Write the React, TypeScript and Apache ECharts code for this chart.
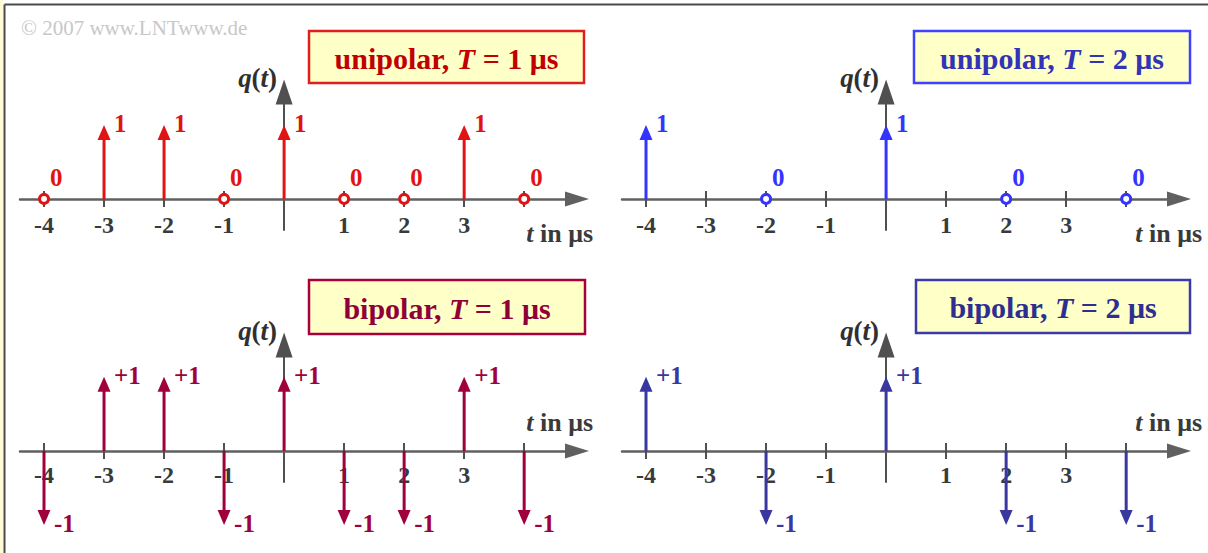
import React, { useEffect, useRef } from "react";
import * as echarts from "echarts";

const SERIF = '"Liberation Serif", "Times New Roman", serif';

// Sampling instants (µs) for the two bit durations
const timesT1 = [-4, -3, -2, -1, 0, 1, 2, 3, 4];
const timesT2 = [-4, -2, 0, 2, 4];

// Weights of the Dirac impulses of q(t)
const unipolarT1 = [0, 1, 1, 0, 1, 0, 0, 1, 0];
const unipolarT2 = [1, 0, 1, 0, 0];
const bipolarT1 = [-1, 1, 1, -1, 1, -1, -1, 1, -1];
const bipolarT2 = [1, -1, 1, -1, -1];

// Axis ticks and labels of the time axis
const tickLabels = [-4, -3, -2, -1, 1, 2, 3];
const tickMarks = [-4, -3, -2, -1, 1, 2, 3, 4];

// Panel captions
const codeNames = ["unipolar", "unipolar", "bipolar", "bipolar"];
const bitDurations = [1, 2, 1, 2];

const AXIS_TEXT = "#3a3a3a";

type Panel = {
  times: number[];
  values: number[];
  signed: boolean;
  color: string;
  textColor: string;
  borderColor: string;
  left: number;
  top: number;
  height: number;
  yMax: number;
  nameGap: number;
  nameBelow: boolean;
  labelMargin: number;
  box: [number, number, number, number];
};

const panels: Panel[] = [
  {
    times: timesT1, values: unipolarT1, signed: false,
    color: "#e01414", textColor: "#c00000", borderColor: "#e01e1e",
    left: 20, top: 92, height: 138, yMax: 1.445, nameGap: 16, nameBelow: true, labelMargin: -17,
    box: [309, 31, 275, 52],
  },
  {
    times: timesT2, values: unipolarT2, signed: false,
    color: "#3434ff", textColor: "#3333b8", borderColor: "#4040ff",
    left: 622, top: 92, height: 138, yMax: 1.445, nameGap: 23, nameBelow: true, labelMargin: -17,
    box: [914, 31, 276, 52],
  },
  {
    times: timesT1, values: bipolarT1, signed: true,
    color: "#a0003c", textColor: "#900038", borderColor: "#a8003e",
    left: 20, top: 345, height: 137, yMax: 1.43, nameGap: 16, nameBelow: false, labelMargin: -19,
    box: [309, 280, 276, 54],
  },
  {
    times: timesT2, values: bipolarT2, signed: true,
    color: "#3838a0", textColor: "#2e2e90", borderColor: "#3a3aa8",
    left: 622, top: 345, height: 137, yMax: 1.43, nameGap: 23, nameBelow: false, labelMargin: -19,
    box: [916, 280, 274, 53],
  },
];

const X_MIN = -4.4;
const X_MAX = 4.88;
const Y_MIN = -0.42;
const GRID_W = 557;

function impulseRenderer(color: string, signed: boolean) {
  return (params: any, api: any) => {
    const t = api.value(0);
    const v = api.value(1);
    const base = api.coord([t, 0]);
    const x = base[0];
    const y0 = base[1];
    const font = `bold 25px ${SERIF}`;
    if (v === 0) {
      return {
        type: "group",
        children: [
          {
            type: "circle",
            shape: { cx: x, cy: y0, r: 4.5 },
            style: { fill: "#ffffff", stroke: color, lineWidth: 3 },
          },
          {
            type: "text",
            style: { text: "0", x: x + 6, y: y0 - 21, fill: color, font, align: "left", verticalAlign: "middle" },
          },
        ],
      };
    }
    const tip = api.coord([t, v]);
    const yt = tip[1];
    const dir = v > 0 ? 1 : -1;
    const headLen = 15;
    const half = 6.5;
    const yb = yt + dir * headLen;
    const label = signed ? (v > 0 ? "+" : "") + String(v) : String(v);
    return {
      type: "group",
      children: [
        {
          type: "line",
          shape: { x1: x, y1: y0, x2: x, y2: yb - dir * 1 },
          style: { stroke: color, lineWidth: 3 },
        },
        {
          type: "polygon",
          shape: { points: [[x, yt], [x - half, yb], [x + half, yb]] },
          style: { fill: color },
        },
        {
          type: "text",
          style: { text: label, x: x + 10, y: yt - 1, fill: color, font, align: "left", verticalAlign: "middle" },
        },
      ],
    };
  };
}

function buildOption() {
  const grid: any[] = [];
  const xAxis: any[] = [];
  const yAxis: any[] = [];
  const series: any[] = [];
  const graphic: any[] = [];

  const nameRich = {
    i: { fontFamily: SERIF, fontStyle: "italic", fontWeight: "bold", fontSize: 26, color: AXIS_TEXT },
    n: { fontFamily: SERIF, fontWeight: "bold", fontSize: 26, color: AXIS_TEXT },
  };

  panels.forEach((p, i) => {
    grid.push({ left: p.left, top: p.top, width: GRID_W, height: p.height, containLabel: false });

    // main time axis: line, arrow, outer ticks, labels, name
    xAxis.push({
      type: "value",
      gridIndex: i,
      min: X_MIN,
      max: X_MAX,
      position: "bottom",
      axisLine: {
        show: true,
        onZero: true,
        onZeroAxisIndex: i,
        symbol: ["none", "triangle"],
        symbolSize: [15, 24],
        lineStyle: { color: "#606060", width: 2.5 },
      },
      axisTick: {
        show: true,
        inside: false,
        length: 8,
        customValues: tickMarks,
        lineStyle: { color: "#505050", width: 2 },
      },
      axisLabel: {
        show: true,
        customValues: tickLabels,
        margin: p.labelMargin,
        color: AXIS_TEXT,
        fontFamily: SERIF,
        fontWeight: "bold",
        fontSize: 24,
        formatter: (val: number) => String(val),
      },
      splitLine: { show: false },
      name: "{i|t}{n| in μs}",
      nameLocation: "end",
      nameGap: p.nameGap,
      nameTextStyle: {
        align: "right",
        verticalAlign: p.nameBelow ? "top" : "bottom",
        padding: p.nameBelow ? [22, 0, 0, 0] : [0, 0, 15, 0],
        rich: nameRich,
      },
    });

    // companion axis carrying the inner half of each tick mark
    xAxis.push({
      type: "value",
      gridIndex: i,
      min: X_MIN,
      max: X_MAX,
      position: "bottom",
      axisLine: { show: false, onZero: true, onZeroAxisIndex: i },
      axisTick: {
        show: true,
        inside: true,
        length: 8,
        customValues: tickMarks,
        lineStyle: { color: "#505050", width: 2 },
      },
      axisLabel: { show: false },
      splitLine: { show: false },
    });

    yAxis.push({
      type: "value",
      gridIndex: i,
      min: Y_MIN,
      max: p.yMax,
      axisLine: {
        show: true,
        onZero: true,
        onZeroAxisIndex: 2 * i,
        symbol: ["none", "triangle"],
        symbolSize: [17, 25],
        lineStyle: { color: "#505050", width: 2 },
      },
      axisTick: { show: false },
      axisLabel: { show: false },
      splitLine: { show: false },
      name: "{i|q}{n|(}{i|t}{n|)}",
      nameLocation: "end",
      nameGap: 14,
      nameTextStyle: {
        align: "right",
        verticalAlign: "middle",
        padding: [0, 7, 0, 0],
        rich: {
          i: { fontFamily: SERIF, fontStyle: "italic", fontWeight: "bold", fontSize: 27, color: "#303030" },
          n: { fontFamily: SERIF, fontWeight: "bold", fontSize: 27, color: "#303030" },
        },
      },
    });

    series.push({
      type: "custom",
      xAxisIndex: 2 * i,
      yAxisIndex: i,
      clip: false,
      z: 5,
      renderItem: impulseRenderer(p.color, p.signed),
      data: p.times.map((t, k) => [t, p.values[k]]),
    });

    // caption box
    const [bx, by, bw, bh] = p.box;
    graphic.push({
      type: "rect",
      shape: { x: bx, y: by, width: bw, height: bh },
      style: { fill: "#ffffc8", stroke: p.borderColor, lineWidth: 2.5 },
      z: 10,
    });
    const bold = { fontFamily: SERIF, fontWeight: "bold", fontSize: 30, fill: p.textColor };
    graphic.push({
      type: "text",
      x: bx + bw / 2,
      y: by + bh / 2 + 1,
      z: 11,
      style: {
        text: `{b|${codeNames[i]}, }{i|T}{b| = ${bitDurations[i]} μs}`,
        align: "center",
        verticalAlign: "middle",
        rich: {
          b: bold,
          i: { ...bold, fontStyle: "italic" },
        },
      },
    });
  });

  // frame and copyright line
  graphic.push(
    { type: "rect", shape: { x: 0, y: 0, width: 3, height: 553 }, style: { fill: "#fffbd6" }, z: 1 },
    { type: "line", shape: { x1: 4.5, y1: 4.5, x2: 1208, y2: 4.5 }, style: { stroke: "#4a4a4a", lineWidth: 2 }, z: 1 },
    { type: "line", shape: { x1: 4.5, y1: 4.5, x2: 4.5, y2: 553 }, style: { stroke: "#4a4a4a", lineWidth: 2 }, z: 1 },
    {
      type: "text",
      x: 21,
      y: 28,
      z: 1,
      style: {
        text: "© 2007 www.LNTwww.de",
        font: `21px ${SERIF}`,
        fill: "#c8c8c8",
        align: "left",
        verticalAlign: "middle",
      },
    }
  );

  return {
    animation: false,
    backgroundColor: "#ffffff",
    grid,
    xAxis,
    yAxis,
    series,
    graphic,
  };
}

export default function App() {
  const ref = useRef<HTMLDivElement>(null);
  useEffect(() => {
    if (!ref.current) return;
    const chart = echarts.init(ref.current, undefined, { renderer: "svg" });
    chart.setOption(buildOption() as any);
    return () => chart.dispose();
  }, []);
  return (
    <div
      ref={ref}
      style={{ position: "absolute", left: 0, top: 0, width: 1208, height: 553 }}
    />
  );
}
